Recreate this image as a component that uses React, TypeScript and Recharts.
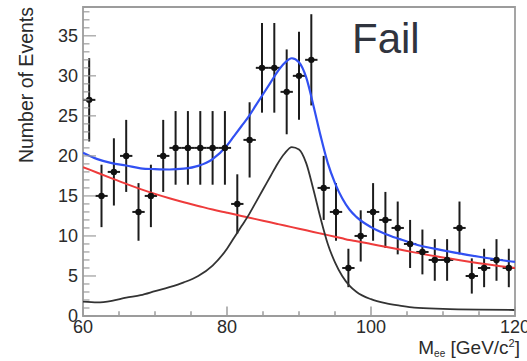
import { ComposedChart, ErrorBar, Line, ReferenceArea, Scatter, XAxis, YAxis } from "recharts";

// binned mass spectrum, 35 bins between 60 and 120
const binCenters = [
  60.86, 62.57, 64.29, 66.0, 67.71, 69.43, 71.14, 72.86, 74.57, 76.29, 78.0, 79.71,
  81.43, 83.14, 84.86, 86.57, 88.29, 90.0, 91.71, 93.43, 95.14, 96.86, 98.57, 100.29,
  102.0, 103.71, 105.43, 107.14, 108.86, 110.57, 112.29, 114.0, 115.71, 117.43, 119.14,
];
const counts = [
  27, 15, 18, 20, 13, 15, 20, 21, 21, 21, 21, 21, 14, 22, 31, 31, 28, 30, 32, 16, 13, 6,
  10, 13, 12, 11, 9, 8, 7, 7, 11, 5, 6, 7, 6,
];
const countErrors = [
  5.2, 3.9, 4.2, 4.5, 3.6, 3.9, 4.5, 4.6, 4.6, 4.6, 4.6, 4.6, 3.7, 4.7, 5.6, 5.6, 5.3, 5.5,
  5.7, 4.0, 3.6, 2.4, 3.2, 3.6, 3.5, 3.3, 3.0, 2.8, 2.6, 2.6, 3.3, 2.2, 2.4, 2.6, 2.4,
];
const BIN_HALF_WIDTH = 60 / 35 / 2;

// fit curves sampled along the mass axis
const curveMass = [
  60, 62, 64, 66, 68, 70, 72, 74, 76, 78, 80, 81, 82, 83, 84, 85, 86, 87, 88, 89, 90, 91,
  92, 93, 94, 95, 96, 97, 98, 100, 102, 104, 106, 110, 115, 120,
];
const signalCurve = [
  1.8, 1.7, 1.9, 2.3, 2.6, 3.1, 3.6, 4.2, 5.0, 6.3, 8.4, 9.8, 11.2, 12.6, 14.2, 15.8, 17.4,
  19.0, 20.3, 21.1, 20.8, 19.1, 15.8, 12.2, 9.0, 6.7, 5.0, 3.8, 3.0, 2.1, 1.6, 1.3, 1.05,
  0.9, 0.8, 0.75,
];
const backgroundCurve = [
  18.6, 17.9, 17.2, 16.5, 15.85, 15.25, 14.7, 14.2, 13.75, 13.3, 12.9, 12.7, 12.5, 12.3,
  12.1, 11.9, 11.7, 11.5, 11.3, 11.1, 10.9, 10.7, 10.5, 10.3, 10.1, 9.9, 9.7, 9.5, 9.35,
  9.0, 8.65, 8.3, 7.95, 7.3, 6.6, 6.0,
];
const totalCurve = [
  20.4, 19.6, 19.1, 18.8, 18.45, 18.35, 18.3, 18.4, 18.75, 19.6, 21.3, 22.5, 23.7, 24.9,
  26.3, 27.7, 29.1, 30.5, 31.6, 32.2, 31.7, 29.8, 26.3, 22.5, 19.1, 16.6, 14.7, 13.3,
  12.35, 11.1, 10.25, 9.6, 9.0, 8.2, 7.4, 6.75,
];

const xTicks = [60, 65, 70, 75, 80, 85, 90, 95, 100, 105, 110, 115, 120];
const xLabels = [60, 80, 100, 120];
const yTicks = Array.from({ length: 39 }, (_, i) => i);

const FRAME = "#9c9c9c";
const INK = "#2b2b2b";
const FONT = "'Liberation Sans', Arial, sans-serif";

const points = binCenters.map((x, i) => ({
  x,
  y: counts[i],
  yErr: countErrors[i],
  xErr: BIN_HALF_WIDTH,
}));
const curve = (ys: number[]) => curveMass.map((x, i) => ({ x, y: ys[i] }));

const XTick = ({ x, y, payload }: any) => {
  const major = xLabels.includes(payload.value);
  return (
    <g>
      <line x1={x} x2={x} y1={y} y2={y - (major ? 9.5 : 4.7)} stroke={FRAME} strokeWidth={1.5} />
      {major && (
        <text x={x} y={y + 4} dy="0.72em" textAnchor="middle" fontSize={18} fontFamily={FONT} fill={INK}>
          {payload.value}
        </text>
      )}
    </g>
  );
};

const YTick = ({ x, y, payload }: any) => {
  const major = payload.value % 5 === 0;
  return (
    <g>
      <line x1={x} x2={x + (major ? 13 : 6.5)} y1={y} y2={y} stroke={FRAME} strokeWidth={1.2} />
      {major && (
        <text x={x - 5} y={y} dy="0.36em" textAnchor="end" fontSize={18} fontFamily={FONT} fill={INK}>
          {payload.value}
        </text>
      )}
    </g>
  );
};

const Marker = ({ cx, cy }: any) => <circle cx={cx} cy={cy} r={3.2} fill="#111" />;

export default function App() {
  return (
    <div style={{ position: "absolute", left: 0, top: 0, width: 527, height: 361, background: "#fff" }}>
      <ComposedChart width={527} height={361} margin={{ top: 7, right: 12, bottom: 0, left: 0 }}>
        <XAxis
          type="number"
          dataKey="x"
          domain={[60, 120]}
          ticks={xTicks}
          interval={0}
          height={45}
          tick={<XTick />}
          tickLine={false}
          axisLine={false}
          tickSize={0}
          tickMargin={0}
          allowDataOverflow
        />
        <YAxis
          type="number"
          domain={[0, 38.6]}
          ticks={yTicks}
          interval={0}
          width={83}
          tick={<YTick />}
          tickLine={false}
          axisLine={false}
          tickSize={0}
          tickMargin={0}
          allowDataOverflow
        />
        <ReferenceArea x1={60} x2={120} y1={0} y2={38.6} fill="none" stroke={FRAME} strokeWidth={1.8} />
        <Scatter data={points} dataKey="y" shape={<Marker />} isAnimationActive={false}>
          <ErrorBar dataKey="yErr" direction="y" width={0} stroke="#1c1c1c" strokeWidth={2} isAnimationActive={false} />
          <ErrorBar dataKey="xErr" direction="x" width={0} stroke="#1c1c1c" strokeWidth={2} isAnimationActive={false} />
        </Scatter>
        <Line data={curve(totalCurve)} dataKey="y" type="monotone" stroke="#3150f2" strokeWidth={2.2} dot={false} isAnimationActive={false} />
        <Line data={curve(backgroundCurve)} dataKey="y" type="monotone" stroke="#ee3b3b" strokeWidth={2} dot={false} isAnimationActive={false} />
        <Line data={curve(signalCurve)} dataKey="y" type="monotone" stroke="#333" strokeWidth={1.8} dot={false} isAnimationActive={false} />
      </ComposedChart>
      <svg width={527} height={361} style={{ position: "absolute", left: 0, top: 0, pointerEvents: "none" }}>
        <text x={352} y={53} fontSize={42} fontFamily={FONT} fill="#30343e">
          Fail
        </text>
        <text transform="translate(33, 7) rotate(-90)" textAnchor="end" fontSize={19.5} fontFamily={FONT} fill={INK}>
          Number of Events
        </text>
        <text x={520} y={354} textAnchor="end" fontSize={19} fontFamily={FONT} fill={INK}>
          M
          <tspan fontSize={10} dy={3}>ee</tspan>
          <tspan dy={-3}> [GeV/c</tspan>
          <tspan fontSize={11} dy={-7}>2</tspan>
          <tspan dy={7}>]</tspan>
        </text>
      </svg>
    </div>
  );
}
